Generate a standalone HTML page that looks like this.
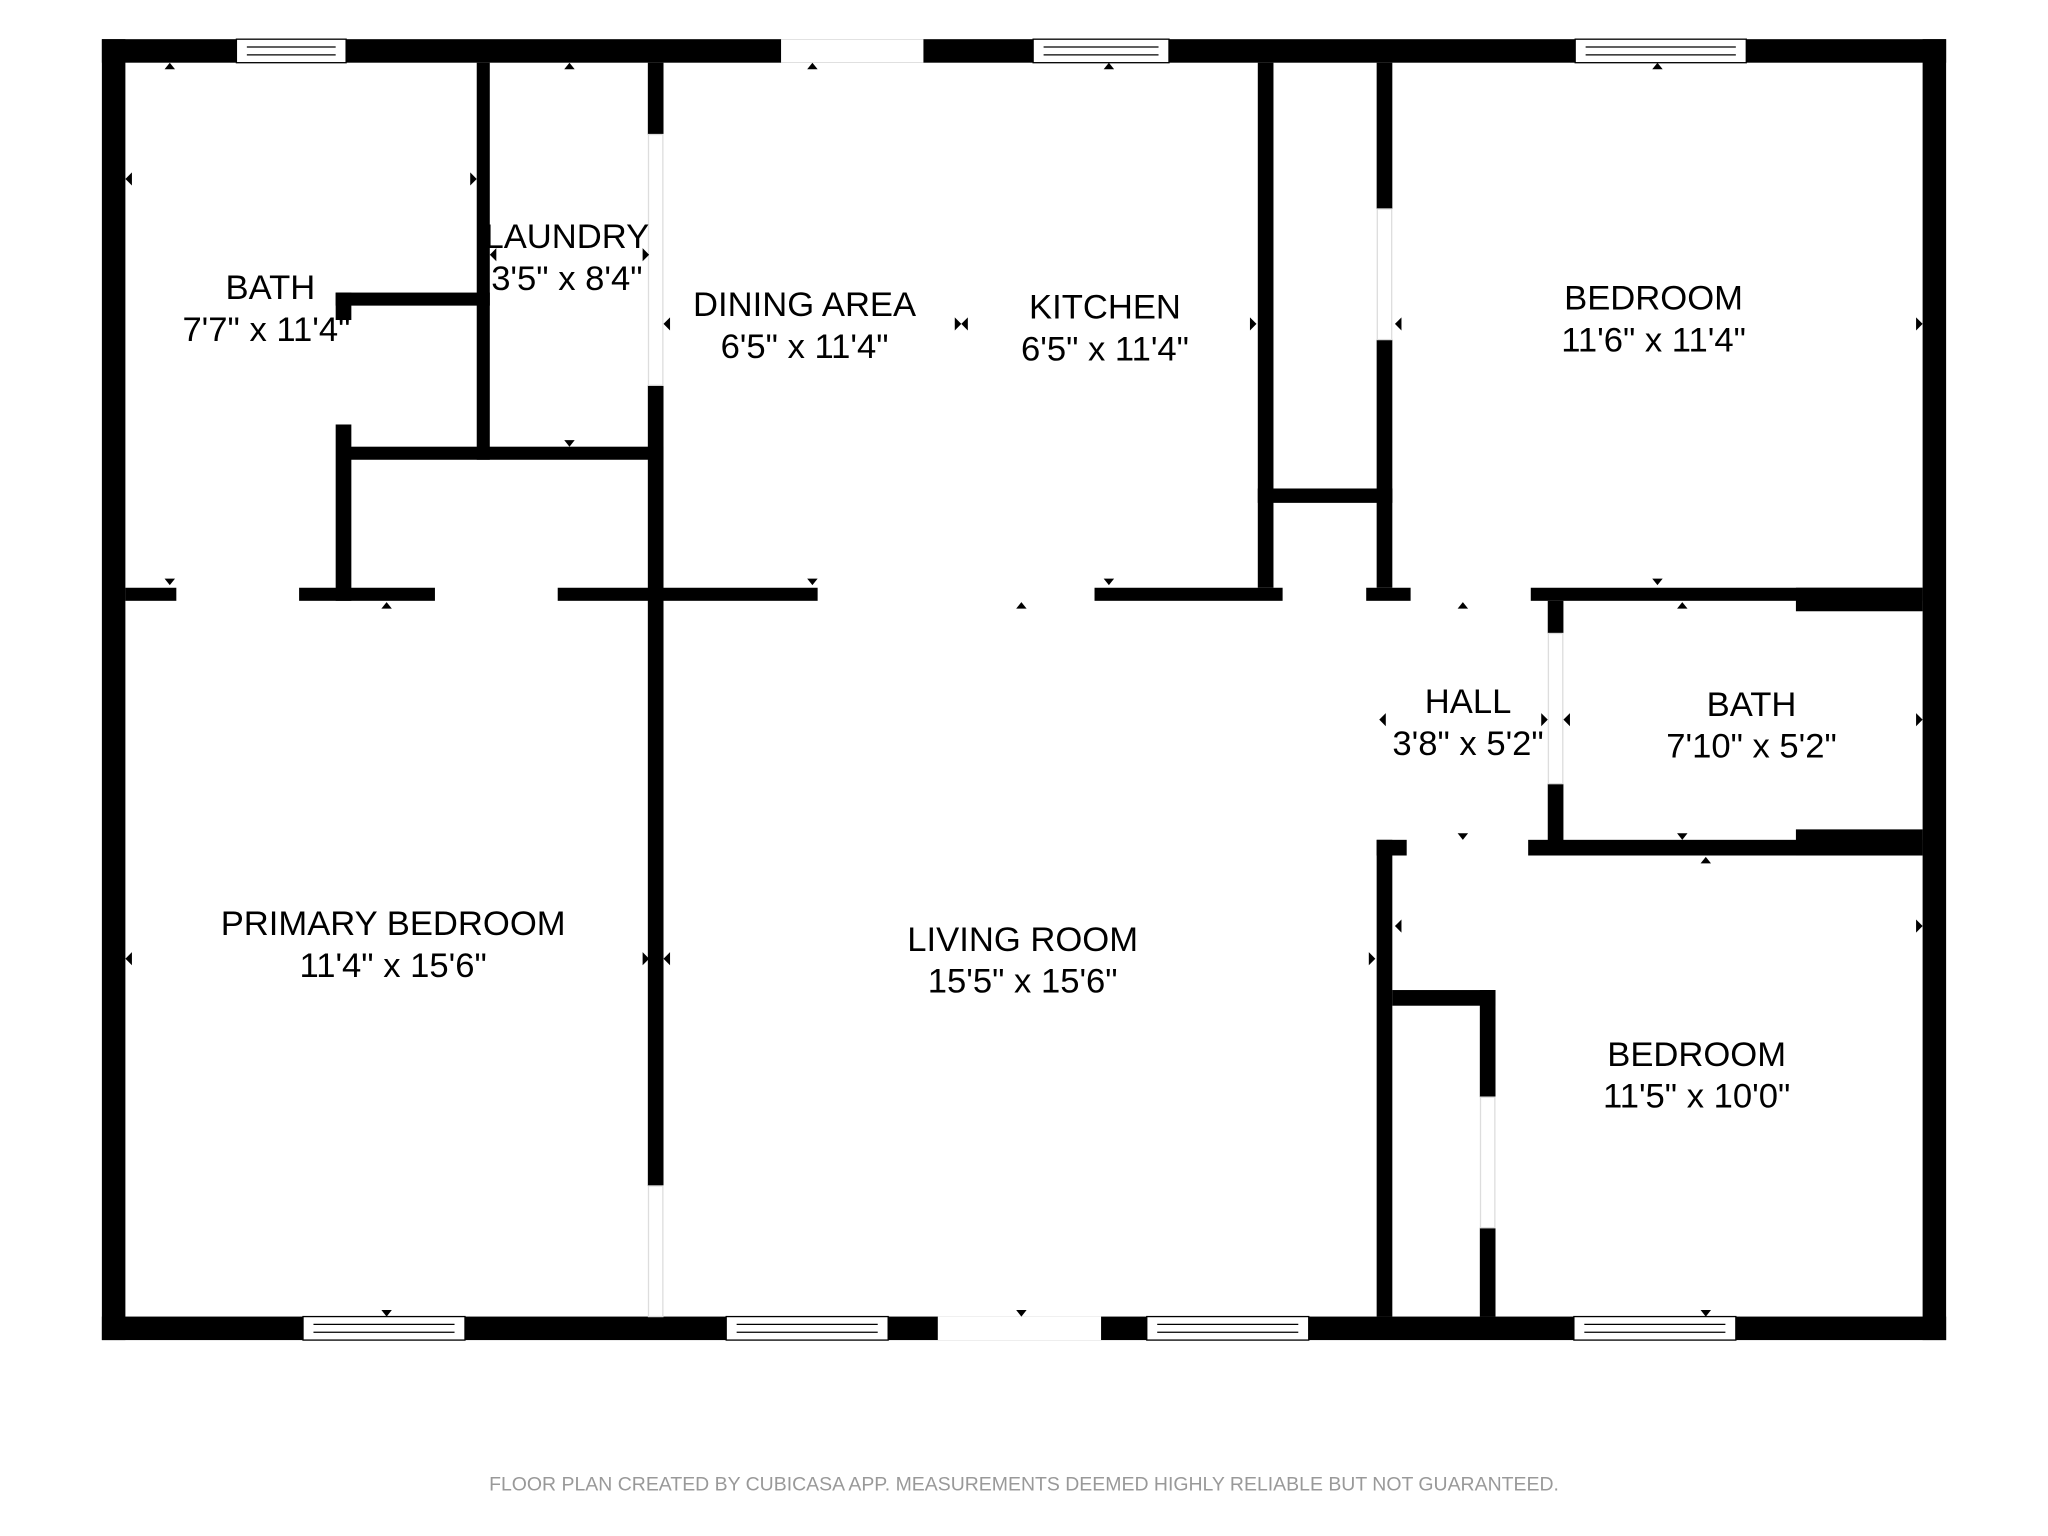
<!DOCTYPE html>
<html><head><meta charset="utf-8"><style>
html,body{margin:0;padding:0;background:#fff;width:2048px;height:1536px;overflow:hidden}
svg{display:block}
text{font-family:"Liberation Sans",Arial,sans-serif;fill:#000}
</style></head><body>
<svg width="2048" height="1536" viewBox="0 0 1568 1176" xmlns="http://www.w3.org/2000/svg">
<rect width="1568" height="1176" fill="#fff"/>
<g fill="#000">
<rect x="78" y="30" width="1412" height="18"/>
<rect x="78" y="1008" width="1412" height="18"/>
<rect x="78" y="30" width="18" height="996"/>
<rect x="1472" y="30" width="18" height="996"/>
<rect x="96" y="450" width="39" height="10"/>
<rect x="229" y="450" width="104" height="10"/>
<rect x="427" y="450" width="199" height="10"/>
<rect x="838" y="450" width="144" height="10"/>
<rect x="1046" y="450" width="34" height="10"/>
<rect x="1172" y="450" width="300" height="10"/>
<rect x="1375" y="450" width="97" height="18"/>
<rect x="496" y="48" width="12" height="55"/>
<rect x="496" y="295" width="12" height="613"/>
<rect x="365" y="48" width="10" height="304"/>
<rect x="262" y="342" width="246" height="10"/>
<rect x="257" y="224" width="118" height="10"/>
<rect x="257" y="224" width="12" height="21"/>
<rect x="257" y="325" width="12" height="135"/>
<rect x="963" y="48" width="12" height="402"/>
<rect x="1054" y="48" width="12" height="112"/>
<rect x="1054" y="260" width="12" height="190"/>
<rect x="963" y="374" width="103" height="11"/>
<rect x="1185" y="460" width="12" height="25"/>
<rect x="1185" y="600" width="12" height="45"/>
<rect x="1170" y="643" width="302" height="12"/>
<rect x="1375" y="635" width="97" height="20"/>
<rect x="1054" y="643" width="23" height="12"/>
<rect x="1054" y="643" width="12" height="365"/>
<rect x="1066" y="758" width="79" height="12"/>
<rect x="1133" y="758" width="12" height="82"/>
<rect x="1133" y="940" width="12" height="68"/>
</g>
<g fill="none" stroke="#ddd" stroke-width="1">
<rect x="496.5" y="103" width="11" height="192"/>
<rect x="496.5" y="908" width="11" height="100"/>
<rect x="1054.5" y="160" width="11" height="100"/>
<rect x="1133.5" y="840" width="11" height="100"/>
<rect x="1185.5" y="485" width="11" height="115"/>
</g>
<g fill="#fff" stroke="#000" stroke-width="1">
<rect x="181" y="30" width="84" height="18"/><line x1="189" y1="36" x2="257" y2="36"/><line x1="189" y1="42" x2="257" y2="42"/>
<rect x="791" y="30" width="104" height="18"/><line x1="799" y1="36" x2="887" y2="36"/><line x1="799" y1="42" x2="887" y2="42"/>
<rect x="1206" y="30" width="131" height="18"/><line x1="1214" y1="36" x2="1329" y2="36"/><line x1="1214" y1="42" x2="1329" y2="42"/>
<rect x="232" y="1008" width="124" height="18"/><line x1="240" y1="1014" x2="348" y2="1014"/><line x1="240" y1="1020" x2="348" y2="1020"/>
<rect x="556" y="1008" width="124" height="18"/><line x1="564" y1="1014" x2="672" y2="1014"/><line x1="564" y1="1020" x2="672" y2="1020"/>
<rect x="878" y="1008" width="124" height="18"/><line x1="886" y1="1014" x2="994" y2="1014"/><line x1="886" y1="1020" x2="994" y2="1020"/>
<rect x="1205" y="1008" width="124" height="18"/><line x1="1213" y1="1014" x2="1321" y2="1014"/><line x1="1213" y1="1020" x2="1321" y2="1020"/>
</g>
<rect x="598" y="30" width="109" height="18" fill="#fff"/>
<rect x="718" y="1008" width="125" height="18" fill="#fff"/>
<g fill="#000">
<path d="M126 53l4-5 4 5z M432 53l4-5 4 5z M618 53l4-5 4 5z M845 53l4-5 4 5z M1265 53l4-5 4 5z"/>
<path d="M126 443l4 5 4-5z M432 337l4 5 4-5z M618 443l4 5 4-5z M845 443l4 5 4-5z M1265 443l4 5 4-5z"/>
<path d="M292 466l4-5 4 5z M778 466l4-5 4 5z M1116 466l4-5 4 5z M1284 466l4-5 4 5z M1302 661l4-5 4 5z"/>
<path d="M292 1003l4 5 4-5z M778 1003l4 5 4-5z M1302 1003l4 5 4-5z M1116 638l4 5 4-5z M1284 638l4 5 4-5z"/>
<path d="M101 132l-5 5 5 5z M101 729l-5 5 5 5z M513 243l-5 5 5 5z M513 729l-5 5 5 5z M1073 243l-5 5 5 5z M1073 704l-5 5 5 5z M1202 546l-5 5 5 5z M1061 546l-5 5 5 5z M741 243l-5 5 5 5z M380 190l-5 5 5 5z"/>
<path d="M360 132l5 5-5 5z M492 190l5 5-5 5z M492 729l5 5-5 5z M957 243l5 5-5 5z M1467 243l5 5-5 5z M1467 704l5 5-5 5z M1467 546l5 5-5 5z M1180 546l5 5-5 5z M1048 729l5 5-5 5z M731 243l5 5-5 5z"/>
</g>
<g font-size="26.5" text-anchor="middle">
<text x="207" y="229">BATH</text><text x="204" y="261">7'7" x 11'4"</text>
<text x="434" y="190">LAUNDRY</text><text x="434" y="222">3'5" x 8'4"</text>
<text x="616" y="242">DINING AREA</text><text x="616" y="274">6'5" x 11'4"</text>
<text x="846" y="244">KITCHEN</text><text x="846" y="276">6'5" x 11'4"</text>
<text x="1266" y="237">BEDROOM</text><text x="1266" y="269">11'6" x 11'4"</text>
<text x="1124" y="546">HALL</text><text x="1124" y="578">3'8" x 5'2"</text>
<text x="1341" y="548">BATH</text><text x="1341" y="580">7'10" x 5'2"</text>
<text x="301" y="716">PRIMARY BEDROOM</text><text x="301" y="748">11'4" x 15'6"</text>
<text x="783" y="728">LIVING ROOM</text><text x="783" y="760">15'5" x 15'6"</text>
<text x="1299" y="816">BEDROOM</text><text x="1299" y="848">11'5" x 10'0"</text>
</g>
<text x="784" y="1141" font-size="14.9" text-anchor="middle" style="fill:#999">FLOOR PLAN CREATED BY CUBICASA APP. MEASUREMENTS DEEMED HIGHLY RELIABLE BUT NOT GUARANTEED.</text>
</svg>
</body></html>
